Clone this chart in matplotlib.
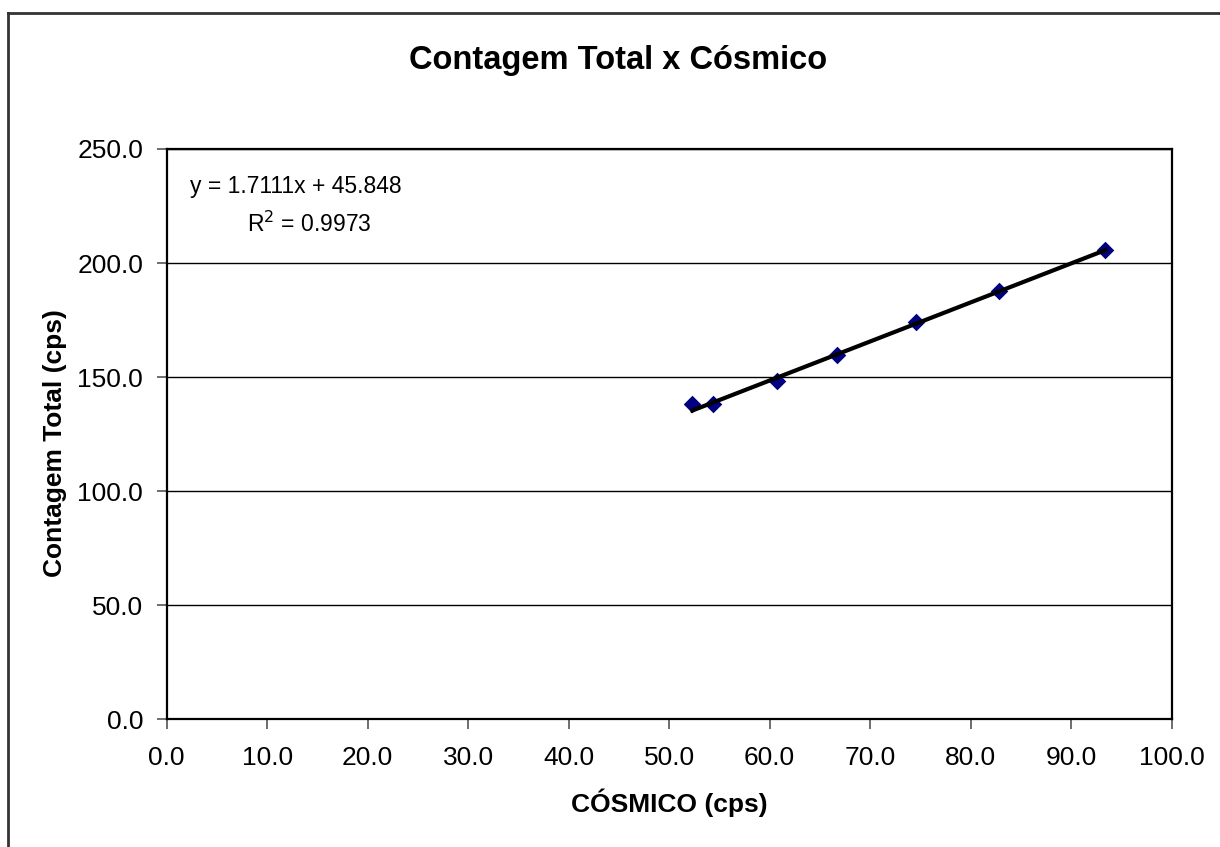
import matplotlib
matplotlib.use("Agg")
import matplotlib.pyplot as plt
from matplotlib.lines import Line2D
import numpy as np

plt.rcParams['font.family'] = ['Liberation Sans', 'DejaVu Sans']

# Measured count rates
cosmico = [52.3, 54.4, 60.7, 66.7, 74.6, 82.8, 93.4]
contagem_total = [138.1, 138.1, 148.2, 159.9, 174.2, 187.7, 205.6]

# Linear trend line coefficients
slope = 1.7111
intercept = 45.848
r_squared = 0.9973

x_ticks = [0, 10, 20, 30, 40, 50, 60, 70, 80, 90, 100]
y_ticks = [0, 50, 100, 150, 200, 250]

fig = plt.figure(figsize=(12.2, 8.47), dpi=100)
ax = fig.add_axes([0.1366, 0.1508, 0.8238, 0.6733])

# Chart area frame (left and top edges)
fig.add_artist(Line2D([8/1220, 8/1220], [0, 1 - 13/847], transform=fig.transFigure,
                      color='#333333', lw=2))
fig.add_artist(Line2D([8/1220, 1], [1 - 13/847, 1 - 13/847], transform=fig.transFigure,
                      color='#333333', lw=2))

ax.set_xlim(0, 100)
ax.set_ylim(0, 250)
ax.set_xticks(x_ticks)
ax.set_yticks(y_ticks)
ax.set_xticklabels([f"{v:.1f}" for v in x_ticks], fontsize=19)
ax.set_yticklabels([f"{v:.1f}" for v in y_ticks], fontsize=19)
ax.tick_params(direction='out', length=7, width=1.2, color='#555555')
ax.tick_params(axis='x', pad=12)
ax.tick_params(axis='y', pad=10)

ax.yaxis.grid(True, color='black', lw=1)
ax.set_axisbelow(True)
for s in ax.spines.values():
    s.set_color('black')
    s.set_linewidth(1.6)

# Trend line over the data range
xs = np.array([min(cosmico), max(cosmico)])
ax.plot(xs, slope * xs + intercept, color='black', lw=3, zorder=3)

ax.scatter(cosmico, contagem_total, marker='D', s=80, color='#000080',
           zorder=2, linewidths=0)

ax.text(190/1220, 1 - 186/847, f"y = {slope:.4f}x + {intercept:.3f}",
        transform=fig.transFigure, fontsize=16.5, va='center', ha='left')
ax.text(247/1220, 1 - 224/847, f"R$^2$ = {r_squared:.4f}",
        transform=fig.transFigure, fontsize=16.5, va='center', ha='left')

fig.text(618/1220, 1 - 60/847, "Contagem Total x Cósmico", fontsize=23.5,
         fontweight='bold', ha='center', va='center')
fig.text(669/1220, 1 - 803/847, "CÓSMICO (cps)", fontsize=19,
         fontweight='bold', ha='center', va='center')
fig.text(55/1220, 1 - 443/847, "Contagem Total (cps)", fontsize=19,
         fontweight='bold', ha='center', va='center', rotation=90)

fig.savefig("out.png", dpi=100)
